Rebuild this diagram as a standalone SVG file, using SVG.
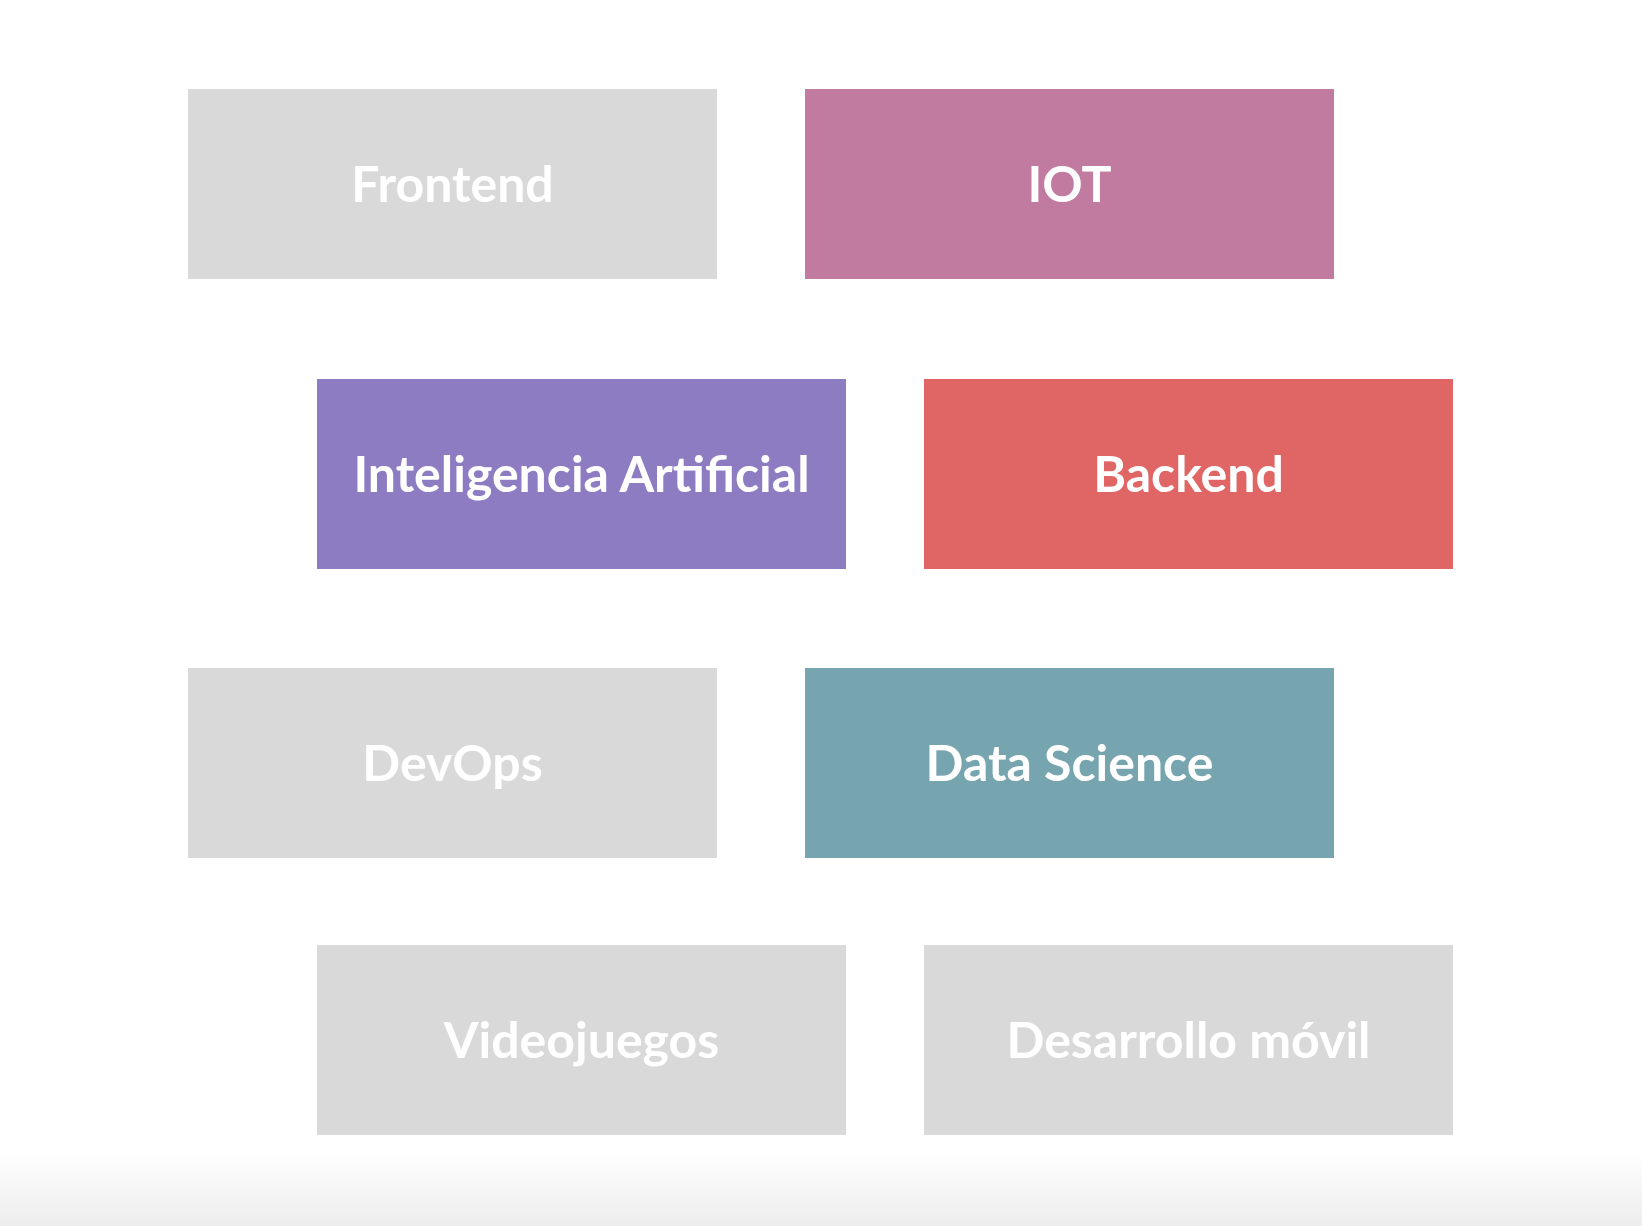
<svg xmlns="http://www.w3.org/2000/svg" width="1642" height="1226" viewBox="0 0 1642 1226">
<defs>
<linearGradient id="fade" x1="0" y1="0" x2="0" y2="1">
<stop offset="0" stop-color="#ffffff"/>
<stop offset="1" stop-color="#ededed"/>
</linearGradient>
</defs>
<style>
.box{stroke:none}
.lbl{font-family:Lato,"Liberation Sans",sans-serif;font-weight:bold;font-size:50px;fill:#ffffff;text-anchor:middle}
.gray{fill:#d9d9d9}
</style>
<rect x="0" y="0" width="1642" height="1226" fill="#ffffff"/>
<rect x="0" y="1150" width="1642" height="76" fill="url(#fade)"/>
<g id="connectors"/>
<g id="frontend"><rect class="box gray" x="188" y="89" width="529" height="190"/><text class="lbl" x="452.5" y="202">Frontend</text></g>
<g id="iot"><rect class="box" fill="#c27ba0" x="805" y="89" width="529" height="190"/><text class="lbl" x="1069.5" y="202">IOT</text></g>
<g id="ia"><rect class="box" fill="#8e7cc3" x="317" y="379" width="529" height="190"/><text class="lbl" x="581.5" y="492">Inteligencia Artificial</text></g>
<g id="backend"><rect class="box" fill="#e06666" x="924" y="379" width="529" height="190"/><text class="lbl" x="1188.5" y="492">Backend</text></g>
<g id="devops"><rect class="box gray" x="188" y="668" width="529" height="190"/><text class="lbl" x="452.5" y="781">DevOps</text></g>
<g id="datascience"><rect class="box" fill="#76a5af" x="805" y="668" width="529" height="190"/><text class="lbl" x="1069.5" y="781">Data Science</text></g>
<g id="videojuegos"><rect class="box gray" x="317" y="945" width="529" height="190"/><text class="lbl" x="581.5" y="1058">Videojuegos</text></g>
<g id="movil"><rect class="box gray" x="924" y="945" width="529" height="190"/><text class="lbl" x="1188.5" y="1058">Desarrollo móvil</text></g>
</svg>
